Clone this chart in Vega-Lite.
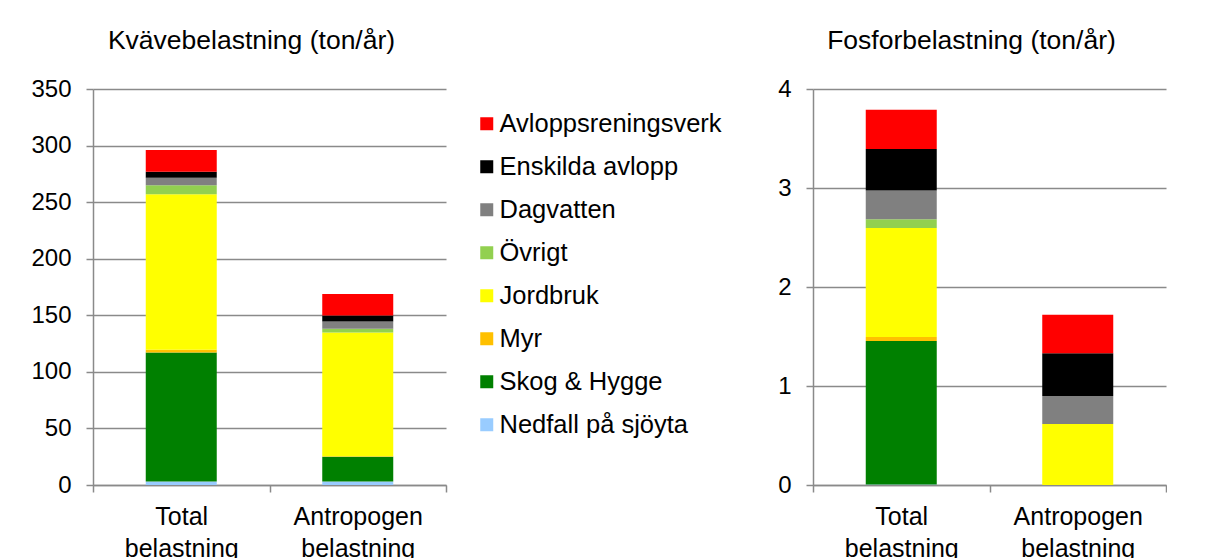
{
  "$schema": "https://vega.github.io/schema/vega-lite/v6.json",
  "background": "white",
  "padding": {"left": 30, "top": 27, "right": 0, "bottom": 0},
  "spacing": 367,
  "bounds": "flush",
  "config": {
    "font": "Liberation Sans",
    "view": {"stroke": null},
    "axis": {
      "labelFont": "Liberation Sans",
      "labelColor": "black",
      "domainColor": "#8a8a8a",
      "tickColor": "#8a8a8a",
      "gridColor": "#8a8a8a",
      "domainWidth": 1.5,
      "tickWidth": 1.5,
      "gridWidth": 1.5,
      "tickSize": 7
    },
    "title": {"font": "Liberation Sans", "fontWeight": "normal", "color": "black", "fontSize": 26.5}
  },
  "resolve": {"legend": {"color": "independent"}},
  "datasets": {
    "kallor": [
      {"kalla": "Nedfall på sjöyta", "ordning": 1},
      {"kalla": "Skog & Hygge", "ordning": 2},
      {"kalla": "Myr", "ordning": 3},
      {"kalla": "Jordbruk", "ordning": 4},
      {"kalla": "Övrigt", "ordning": 5},
      {"kalla": "Dagvatten", "ordning": 6},
      {"kalla": "Enskilda avlopp", "ordning": 7},
      {"kalla": "Avloppsreningsverk", "ordning": 8}
    ],
    "kvave": [
      {"belastning": "Total belastning", "kalla": "Nedfall på sjöyta", "ton": 3},
      {"belastning": "Total belastning", "kalla": "Skog & Hygge", "ton": 114},
      {"belastning": "Total belastning", "kalla": "Myr", "ton": 2.5},
      {"belastning": "Total belastning", "kalla": "Jordbruk", "ton": 137.5},
      {"belastning": "Total belastning", "kalla": "Övrigt", "ton": 8},
      {"belastning": "Total belastning", "kalla": "Dagvatten", "ton": 6.5},
      {"belastning": "Total belastning", "kalla": "Enskilda avlopp", "ton": 5.3},
      {"belastning": "Total belastning", "kalla": "Avloppsreningsverk", "ton": 19.2},
      {"belastning": "Antropogen belastning", "kalla": "Nedfall på sjöyta", "ton": 3},
      {"belastning": "Antropogen belastning", "kalla": "Skog & Hygge", "ton": 22},
      {"belastning": "Antropogen belastning", "kalla": "Myr", "ton": 0.4},
      {"belastning": "Antropogen belastning", "kalla": "Jordbruk", "ton": 109.4},
      {"belastning": "Antropogen belastning", "kalla": "Övrigt", "ton": 3.2},
      {"belastning": "Antropogen belastning", "kalla": "Dagvatten", "ton": 6.5},
      {"belastning": "Antropogen belastning", "kalla": "Enskilda avlopp", "ton": 5.3},
      {"belastning": "Antropogen belastning", "kalla": "Avloppsreningsverk", "ton": 19.1}
    ],
    "fosfor": [
      {"belastning": "Total belastning", "kalla": "Nedfall på sjöyta", "ton": 0.005},
      {"belastning": "Total belastning", "kalla": "Skog & Hygge", "ton": 1.45},
      {"belastning": "Total belastning", "kalla": "Myr", "ton": 0.04},
      {"belastning": "Total belastning", "kalla": "Jordbruk", "ton": 1.1},
      {"belastning": "Total belastning", "kalla": "Övrigt", "ton": 0.09},
      {"belastning": "Total belastning", "kalla": "Dagvatten", "ton": 0.29},
      {"belastning": "Total belastning", "kalla": "Enskilda avlopp", "ton": 0.42},
      {"belastning": "Total belastning", "kalla": "Avloppsreningsverk", "ton": 0.395},
      {"belastning": "Antropogen belastning", "kalla": "Jordbruk", "ton": 0.615},
      {"belastning": "Antropogen belastning", "kalla": "Dagvatten", "ton": 0.285},
      {"belastning": "Antropogen belastning", "kalla": "Enskilda avlopp", "ton": 0.43},
      {"belastning": "Antropogen belastning", "kalla": "Avloppsreningsverk", "ton": 0.39}
    ]
  },
  "hconcat": [
    {
      "width": 353,
      "height": 396,
      "title": {"text": "Kvävebelastning (ton/år)", "anchor": "middle", "dx": -18, "offset": 23},
      "data": {"name": "kvave"},
      "transform": [{"lookup": "kalla", "from": {"data": {"name": "kallor"}, "key": "kalla", "fields": ["ordning"]}}],
      "mark": {"type": "bar", "width": 71},
      "encoding": {
        "x": {
          "field": "belastning",
          "type": "nominal",
          "sort": ["Total belastning", "Antropogen belastning"],
          "scale": {"paddingInner": 0, "paddingOuter": 0},
          "axis": {"title": null, "labelAngle": 0, "labelFontSize": 25, "labelLineHeight": 32, "labelPadding": 12, "tickBand": "extent", "labelExpr": "split(datum.label, ' ')", "grid": false}
        },
        "y": {
          "field": "ton",
          "type": "quantitative",
          "stack": "zero",
          "scale": {"domain": [0, 350], "nice": false},
          "axis": {"title": null, "values": [0, 50, 100, 150, 200, 250, 300, 350], "labelFontSize": 24, "labelPadding": 15, "grid": true, "domain": true}
        },
        "order": {"field": "ordning", "type": "quantitative", "sort": "ascending"},
        "color": {
          "field": "kalla",
          "type": "nominal",
          "scale": {
            "domain": ["Avloppsreningsverk", "Enskilda avlopp", "Dagvatten", "Övrigt", "Jordbruk", "Myr", "Skog & Hygge", "Nedfall på sjöyta"],
            "range": ["#ff0000", "#000000", "#808080", "#92d050", "#ffff00", "#ffc000", "#008000", "#99ccff"]
          },
          "legend": {
            "title": null,
            "orient": "none",
            "legendX": 381,
            "legendY": 22,
            "symbolType": "square",
            "symbolSize": 169,
            "symbolStrokeWidth": 0,
            "symbolOpacity": 1,
            "labelFontSize": 25.5,
            "labelFont": "Liberation Sans",
            "labelColor": "black",
            "labelOffset": 0,
            "rowPadding": 16,
            "labelLimit": 400
          }
        }
      }
    },
    {
      "width": 353,
      "height": 396,
      "title": {"text": "Fosforbelastning (ton/år)", "anchor": "middle", "dx": -18, "offset": 23},
      "data": {"name": "fosfor"},
      "transform": [{"lookup": "kalla", "from": {"data": {"name": "kallor"}, "key": "kalla", "fields": ["ordning"]}}],
      "mark": {"type": "bar", "width": 71},
      "encoding": {
        "x": {
          "field": "belastning",
          "type": "nominal",
          "sort": ["Total belastning", "Antropogen belastning"],
          "scale": {"paddingInner": 0, "paddingOuter": 0},
          "axis": {"title": null, "labelAngle": 0, "labelFontSize": 25, "labelLineHeight": 32, "labelPadding": 12, "tickBand": "extent", "labelExpr": "split(datum.label, ' ')", "grid": false}
        },
        "y": {
          "field": "ton",
          "type": "quantitative",
          "stack": "zero",
          "scale": {"domain": [0, 4], "nice": false},
          "axis": {"title": null, "values": [0, 1, 2, 3, 4], "labelFontSize": 24, "labelPadding": 15, "grid": true, "domain": true}
        },
        "order": {"field": "ordning", "type": "quantitative", "sort": "ascending"},
        "color": {
          "field": "kalla",
          "type": "nominal",
          "scale": {
            "domain": ["Avloppsreningsverk", "Enskilda avlopp", "Dagvatten", "Övrigt", "Jordbruk", "Myr", "Skog & Hygge", "Nedfall på sjöyta"],
            "range": ["#ff0000", "#000000", "#808080", "#92d050", "#ffff00", "#ffc000", "#008000", "#99ccff"]
          },
          "legend": null
        }
      }
    }
  ]
}
